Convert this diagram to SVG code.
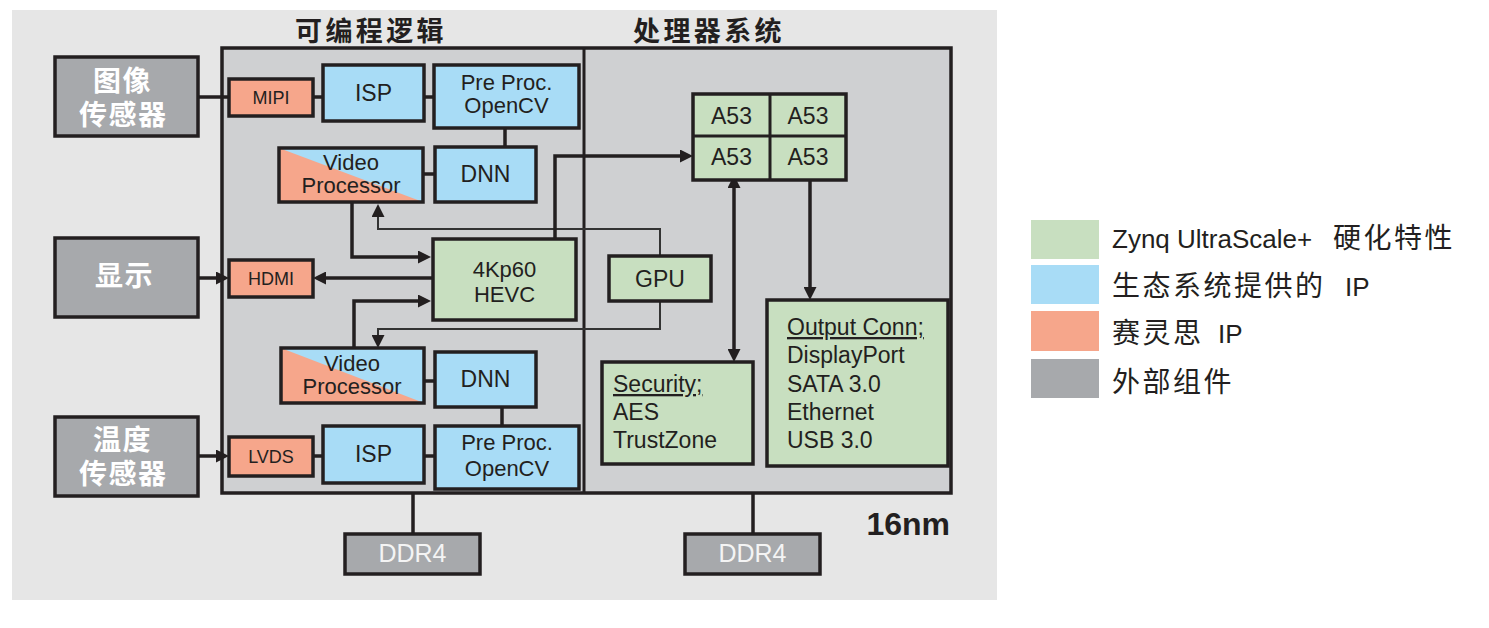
<svg xmlns="http://www.w3.org/2000/svg" width="1489" height="628" viewBox="0 0 1489 628">
<style>
.t{font-family:"Liberation Sans","Noto Sans CJK SC",sans-serif;fill:#231f20}
.c{text-anchor:middle}
.box{stroke:#231f20;stroke-width:3.5}
.g{fill:#c8dfc0}.b{fill:#a8dcf6}.s{fill:#f6a68b}.x{fill:#a7a9ac}
.ln{fill:none;stroke:#231f20;stroke-width:3.5}
.th{fill:none;stroke:#333;stroke-width:2}
.ext{font-family:"Liberation Sans","Noto Sans CJK SC",sans-serif;font-weight:bold;font-size:28px;fill:#fff;letter-spacing:1.5px}
.m{font-size:23px}
.m2{font-size:22px}
.sm{font-size:18px}
.lg{font-size:26px}
.cj{font-size:28px;letter-spacing:2.5px}
</style>
<defs>
<marker id="ah" markerUnits="userSpaceOnUse" markerWidth="14" markerHeight="13" refX="9" refY="6.5" orient="auto">
<path d="M0,0 L13,6.5 L0,13 z" fill="#231f20"/>
</marker>
<marker id="ahs" markerUnits="userSpaceOnUse" markerWidth="14" markerHeight="13" refX="4" refY="6.5" orient="auto-start-reverse">
<path d="M0,0 L13,6.5 L0,13 z" fill="#231f20"/>
</marker>
</defs>
<rect x="12" y="10" width="985" height="590" fill="#e6e6e6"/>
<g id="chip">
<rect x="222" y="48" width="729" height="445" fill="#cfd0d2" class="box"/>
<line x1="584" y1="48" x2="584" y2="493" stroke="#231f20" stroke-width="3"/>
</g>
<g id="titles">
<text class="t" x="295" y="41" font-size="27" font-weight="bold" letter-spacing="3.4">可编程逻辑</text>
<text class="t" x="633" y="41" font-size="27" font-weight="bold" letter-spacing="3.4">处理器系统</text>
</g>
<g id="connectors">
<path class="ln" d="M197,97 H229 M313,97 H323 M424,97 H434 M505,128 V147 M422,174 H434"/>
<path class="ln" d="M352,202 V257 H427" marker-end="url(#ah)"/>
<path class="th" d="M660,256 V229 H378 V208" marker-end="url(#ah)"/>
<path class="ln" d="M555,239 V156 H689" marker-end="url(#ah)"/>
<path class="ln" d="M433,278 H317" marker-end="url(#ah)"/>
<path class="ln" d="M197,278 H225" marker-end="url(#ah)"/>
<path class="ln" d="M354,348 V301 H427" marker-end="url(#ah)"/>
<path class="th" d="M660,301 V329 H378 V344" marker-end="url(#ah)"/>
<path class="ln" d="M424,381 H435 M502,407 V426"/>
<path class="ln" d="M198,456 H225" marker-end="url(#ah)"/>
<path class="ln" d="M313,456 H323 M424,456 H435"/>
<path class="ln" d="M734,184 V358" marker-start="url(#ahs)" marker-end="url(#ah)"/>
<path class="ln" d="M810,180 V296" marker-end="url(#ah)"/>
<path class="ln" d="M413,493 V534 M753,493 V534"/>
</g>
<g id="img-sensor">
<rect x="55" y="57" width="143" height="79" class="box x"/>
<text class="ext" x="93" y="91">图像</text>
<text class="ext" x="79" y="125">传感器</text>
</g>
<g id="display">
<rect x="55" y="238" width="143" height="79" class="box x"/>
<text class="ext" x="95" y="286">显示</text>
</g>
<g id="temp-sensor">
<rect x="55" y="417" width="143" height="79" class="box x"/>
<text class="ext" x="93" y="450">温度</text>
<text class="ext" x="79" y="484">传感器</text>
</g>
<g id="mipi">
<rect x="229" y="79" width="84" height="37" class="box s"/>
<text class="t c sm" x="271" y="104">MIPI</text>
</g>
<g id="isp1">
<rect x="323" y="65" width="101" height="56" class="box b"/>
<text class="t c m" x="373.5" y="101">ISP</text>
</g>
<g id="pre1">
<rect x="434" y="65" width="145" height="63" class="box b"/>
<text class="t c m2" x="506.5" y="90">Pre Proc.</text>
<text class="t c m2" x="506.5" y="113">OpenCV</text>
</g>
<g id="vp1">
<rect x="279" y="148" width="144" height="54" class="b"/>
<polygon points="279,148 423,202 279,202" class="s"/>
<rect x="279" y="148" width="144" height="54" fill="none" class="box"/>
<text class="t c m2" x="351" y="170">Video</text>
<text class="t c m2" x="351" y="193">Processor</text>
</g>
<g id="dnn1">
<rect x="435" y="147" width="101" height="55" class="box b"/>
<text class="t c m" x="485.5" y="182">DNN</text>
</g>
<g id="hdmi">
<rect x="229" y="260" width="84" height="37" class="box s"/>
<text class="t c sm" x="271" y="285">HDMI</text>
</g>
<g id="hevc">
<rect x="433" y="239" width="143" height="81" class="box g"/>
<text class="t c m2" x="504.5" y="277">4Kp60</text>
<text class="t c m2" x="504.5" y="302">HEVC</text>
</g>
<g id="gpu">
<rect x="609" y="256" width="102" height="45" class="box g"/>
<text class="t c m" x="660" y="287">GPU</text>
</g>
<g id="vp2">
<rect x="281" y="348" width="143" height="55" class="b"/>
<polygon points="281,348 424,403 281,403" class="s"/>
<rect x="281" y="348" width="143" height="55" fill="none" class="box"/>
<text class="t c m2" x="352" y="371">Video</text>
<text class="t c m2" x="352" y="394">Processor</text>
</g>
<g id="dnn2">
<rect x="435" y="352" width="101" height="55" class="box b"/>
<text class="t c m" x="485.5" y="387">DNN</text>
</g>
<g id="lvds">
<rect x="229" y="437" width="84" height="39" class="box s"/>
<text class="t c sm" x="271" y="463">LVDS</text>
</g>
<g id="isp2">
<rect x="323" y="426" width="101" height="57" class="box b"/>
<text class="t c m" x="373.5" y="462">ISP</text>
</g>
<g id="pre2">
<rect x="435" y="426" width="144" height="63" class="box b"/>
<text class="t c m2" x="507" y="450">Pre Proc.</text>
<text class="t c m2" x="507" y="476">OpenCV</text>
</g>
<g id="a53">
<rect x="693" y="94" width="153" height="86" class="box g"/>
<line x1="770" y1="94" x2="770" y2="180" stroke="#231f20" stroke-width="3"/>
<line x1="693" y1="136" x2="846" y2="136" stroke="#231f20" stroke-width="3"/>
<text class="t c m" x="731.5" y="124">A53</text>
<text class="t c m" x="808" y="124">A53</text>
<text class="t c m" x="731.5" y="165">A53</text>
<text class="t c m" x="808" y="165">A53</text>
</g>
<g id="security">
<rect x="602" y="362" width="151" height="102" class="box g"/>
<text class="t m" x="613" y="392" text-decoration="underline">Security;</text>
<text class="t m" x="613" y="420">AES</text>
<text class="t m" x="613" y="448">TrustZone</text>
</g>
<g id="output">
<rect x="767" y="300" width="181" height="166" class="box g"/>
<text class="t m" x="787" y="335" text-decoration="underline">Output Conn;</text>
<text class="t m" x="787" y="363">DisplayPort</text>
<text class="t m" x="787" y="392">SATA 3.0</text>
<text class="t m" x="787" y="420">Ethernet</text>
<text class="t m" x="787" y="448">USB 3.0</text>
</g>
<g id="ddr4-left">
<rect x="345" y="534" width="135" height="40" class="box x"/>
<text class="c" x="412.5" y="562" font-family="Liberation Sans, sans-serif" font-size="25" fill="#f4f4f4">DDR4</text>
</g>
<g id="ddr4-right">
<rect x="685" y="534" width="135" height="40" class="box x"/>
<text class="c" x="752.5" y="562" font-family="Liberation Sans, sans-serif" font-size="25" fill="#f4f4f4">DDR4</text>
</g>
<text class="t" x="950" y="535" font-size="32" font-weight="bold" text-anchor="end">16nm</text>
<g id="legend">
<rect x="1031" y="220" width="68" height="39" class="g"/>
<rect x="1031" y="265" width="68" height="39" class="b"/>
<rect x="1031" y="311" width="68" height="40" class="s"/>
<rect x="1031" y="359" width="68" height="39" class="x"/>
<text class="t lg" x="1112" y="248">Zynq UltraScale+<tspan class="cj" x="1333">硬化特性</tspan></text>
<text class="t" y="296"><tspan class="cj" x="1112">生态系统提供的</tspan><tspan class="lg" x="1345">IP</tspan></text>
<text class="t" y="343"><tspan class="cj" x="1112">赛灵思</tspan><tspan class="lg" x="1218">IP</tspan></text>
<text class="t" y="392"><tspan class="cj" x="1112">外部组件</tspan></text>
</g>
</svg>
